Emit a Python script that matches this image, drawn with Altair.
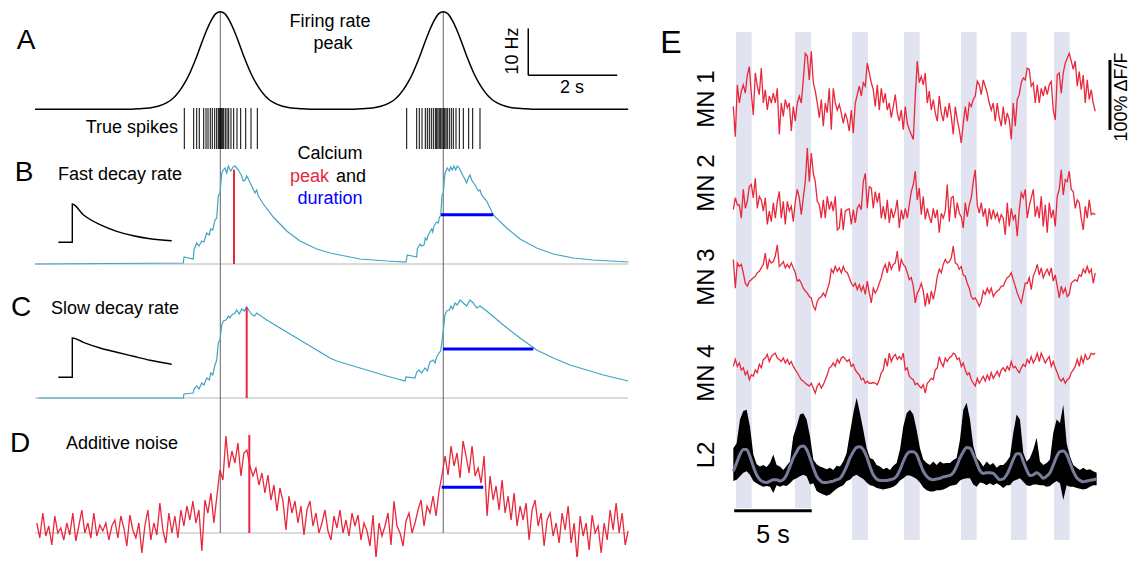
import altair as alt
import numpy as np
import pandas as pd

FONT = "Liberation Sans"
RED = "#e8283c"
BLUE = "#0000ff"
TEAL = "#3fa5c2"
GUIDE = "#666666"
BASE_GREY = "#cfcfcf"
BAND = "#e1e3f0"
L2_SMOOTH = "#787d9b"

# ---------------- Panels A-D : simulated neuron (time in s) ----------------
PEAK_TIMES_S = [4.164, 9.175]
TRACE_SPAN_S = [0.0, 13.33]
RATE_PROFILE_DT_S = [-2.0, -1.8, -1.6, -1.4, -1.2, -1.1, -1.0, -0.9, -0.8, -0.7, -0.6, -0.5, -0.4, -0.3, -0.2, -0.1, 0.0,
                     0.1, 0.2, 0.3, 0.4, 0.5, 0.6, 0.7, 0.8, 0.9, 1.0, 1.1, 1.2, 1.4, 1.6, 1.8, 2.0]
RATE_PROFILE_HZ = [0.0, 0.1, 0.25, 0.6, 1.4, 2.0, 2.9, 4.1, 5.6, 7.4, 9.6, 12.0, 14.6, 17.0, 19.0, 20.4, 20.8,
                   20.4, 19.0, 17.0, 14.6, 12.0, 9.6, 7.4, 5.6, 4.1, 2.9, 2.0, 1.4, 0.6, 0.25, 0.1, 0.0]
SPIKES_S = [3.355, 3.566, 3.634, 3.692, 3.791, 3.843, 3.888, 3.939, 3.984, 4.038, 4.083, 4.119, 4.142, 4.164,
            4.187, 4.209, 4.240, 4.276, 4.315, 4.353, 4.404, 4.465, 4.539, 4.622, 4.735, 4.854, 4.996,
            8.353, 8.578, 8.636, 8.697, 8.771, 8.816, 8.861, 8.906, 8.951, 8.996, 9.027, 9.056, 9.085, 9.117,
            9.146, 9.175, 9.207, 9.236, 9.265, 9.310, 9.355, 9.400, 9.461, 9.535, 9.625, 9.746, 9.836, 10.0]
SCALE_HZ = [7.23, 17.23]
SCALE_S = [11.085, 13.085]

FAST_T = [0.0, 3.333, 3.348, 3.557, 3.573, 3.634, 3.685, 3.746, 3.798, 3.858, 3.917, 3.948, 3.993, 4.045, 4.083,
          4.119, 4.157, 4.196, 4.218, 4.270, 4.308, 4.344, 4.398, 4.456, 4.494, 4.533, 4.569, 4.607, 4.645, 4.681,
          4.719, 4.757, 4.793, 4.870, 4.944, 4.982, 5.018, 5.130, 5.355, 5.656, 5.955, 6.330, 6.629, 6.854, 7.303,
          7.903, 8.337, 8.366, 8.578, 8.591, 8.629, 8.652, 8.690, 8.742, 8.771, 8.802, 8.838, 8.876, 8.915, 8.937,
          8.966, 8.996, 9.027, 9.063, 9.085, 9.117, 9.146, 9.175, 9.213, 9.236, 9.265, 9.310, 9.342, 9.378, 9.416,
          9.454, 9.490, 9.535, 9.566, 9.611, 9.647, 9.701, 9.737, 9.775, 9.813, 9.888, 9.962, 10.0, 10.038, 10.151,
          10.299, 10.600, 10.899, 11.274, 11.647, 12.097, 12.546, 13.333]
FAST_CA = [0.0, 0.01, 0.07, 0.05, 0.14, 0.21, 0.18, 0.23, 0.22, 0.31, 0.29, 0.35, 0.34, 0.44, 0.46, 0.68, 0.71, 0.91,
           0.93, 0.96, 0.91, 0.98, 0.93, 0.97, 0.98, 0.96, 0.94, 0.91, 0.88, 0.83, 0.84, 0.88, 0.85, 0.78, 0.71, 0.74,
           0.68, 0.60, 0.47, 0.33, 0.23, 0.15, 0.11, 0.09, 0.05, 0.03, 0.02, 0.09, 0.07, 0.15, 0.18, 0.20, 0.18, 0.19,
           0.26, 0.24, 0.29, 0.32, 0.35, 0.32, 0.38, 0.40, 0.42, 0.41, 0.46, 0.49, 0.68, 0.71, 0.91, 0.93, 0.96, 0.93,
           0.97, 0.94, 0.98, 0.94, 0.98, 0.96, 0.93, 0.89, 0.86, 0.81, 0.86, 0.89, 0.84, 0.79, 0.73, 0.74, 0.69, 0.63,
           0.49, 0.36, 0.25, 0.16, 0.10, 0.06, 0.04, 0.02]
FAST_KERNEL_T = [0.524, 0.838, 0.838, 1.085, 1.461, 1.836, 2.209, 2.584, 3.072]
FAST_KERNEL_V = [0.217, 0.217, 0.60, 0.493, 0.393, 0.327, 0.283, 0.253, 0.233]
FAST_PEAK = [4.472, 0.943]
FAST_DURATION = [9.124, 10.299, 0.493]

SLOW_T = [0.074, 3.333, 3.348, 3.557, 3.573, 3.634, 3.685, 3.746, 3.798, 3.858, 3.917, 3.948, 3.993, 4.045, 4.083,
          4.119, 4.157, 4.196, 4.231, 4.292, 4.344, 4.382, 4.420, 4.494, 4.533, 4.591, 4.645, 4.703, 4.757, 4.816,
          4.883, 4.937, 4.982, 5.207, 5.580, 5.955, 6.330, 6.629, 6.780, 7.153, 7.528, 7.903, 8.315, 8.337, 8.539,
          8.578, 8.629, 8.690, 8.764, 8.816, 8.876, 8.951, 8.989, 9.027, 9.079, 9.117, 9.146, 9.175, 9.213, 9.252,
          9.310, 9.348, 9.387, 9.438, 9.490, 9.551, 9.625, 9.701, 9.775, 9.849, 9.926, 10.0, 10.151, 10.524, 10.899,
          11.274, 11.647, 12.022, 12.398, 12.771, 13.333]
SLOW_CA = [0.0, 0.0, 0.04, 0.05, 0.09, 0.12, 0.09, 0.15, 0.13, 0.20, 0.18, 0.25, 0.23, 0.33, 0.38, 0.55, 0.58, 0.73,
           0.77, 0.78, 0.82, 0.80, 0.83, 0.85, 0.88, 0.84, 0.89, 0.87, 0.91, 0.87, 0.83, 0.82, 0.85, 0.78, 0.68, 0.58,
           0.48, 0.40, 0.37, 0.32, 0.27, 0.22, 0.17, 0.21, 0.20, 0.26, 0.28, 0.25, 0.30, 0.27, 0.36, 0.38, 0.35, 0.41,
           0.45, 0.47, 0.57, 0.67, 0.83, 0.87, 0.88, 0.92, 0.89, 0.95, 0.93, 0.98, 0.95, 0.92, 0.98, 0.95, 0.90, 0.92,
           0.87, 0.73, 0.60, 0.48, 0.40, 0.33, 0.28, 0.23, 0.17]
SLOW_KERNEL_T = [0.524, 0.838, 0.838, 1.085, 1.461, 1.836, 2.209, 2.584, 3.072]
SLOW_KERNEL_V = [0.207, 0.207, 0.60, 0.557, 0.50, 0.457, 0.417, 0.377, 0.337]
SLOW_PEAK = [4.757, 0.907]
SLOW_DURATION = [9.169, 11.198, 0.49]

NOISY_SPAN_S = [0.04, 13.33]
NOISY_CA = [0.10, -0.05, 0.20, -0.03, 0.07, -0.12, 0.17, 0.00, 0.05, -0.07,
            0.10, -0.02, 0.20, -0.08, 0.07, 0.23, 0.00, 0.10, -0.05, 0.20,
            -0.03, 0.08, 0.02, 0.10, -0.07, 0.07, 0.13, -0.05, 0.17, 0.05,
            -0.13, 0.18, 0.03, -0.05, 0.10, -0.20, 0.07, 0.23, -0.07, 0.10,
            -0.02, 0.30, 0.03, -0.10, 0.20, 0.00, 0.17, -0.05, 0.23, 0.07,
            0.27, 0.13, 0.32, 0.10, 0.23, -0.18, 0.33, 0.20, 0.40, 0.10,
            0.37, 0.63, 0.53, 0.97, 0.65, 0.82, 0.70, 0.90, 0.57, 0.80,
            0.83, 0.67, 0.57, 0.65, 0.48, 0.60, 0.40, 0.58, 0.33, 0.48,
            0.22, 0.45, 0.32, 0.03, 0.37, 0.20, 0.32, 0.10, 0.27, -0.02,
            0.23, 0.32, 0.07, 0.20, 0.00,
            0.10, 0.23, 0.02, -0.07, 0.17, 0.05, 0.23, 0.00, 0.13, -0.03,
            0.20, 0.07, 0.18, -0.07, 0.10, 0.02, -0.13, 0.18, -0.25, 0.10,
            -0.03, 0.07, 0.20, -0.12, 0.32, 0.07, 0.00, -0.13, 0.12, 0.20,
            0.00, 0.10, 0.23, 0.33, 0.07, 0.27, 0.20, 0.37, 0.17, 0.42,
            0.58, 0.77, 0.58, 0.87, 0.67, 0.80, 0.55, 0.92, 0.77, 0.60,
            0.87, 0.57, 0.65, 0.50, 0.77, 0.17, 0.57, 0.33, 0.47, 0.23,
            0.53, 0.20, 0.37, 0.13, 0.40, 0.07, 0.27, 0.13, 0.30, -0.07,
            0.23, 0.33, 0.07, 0.20, -0.13, 0.13, 0.20, -0.03, 0.10, -0.10,
            0.20, 0.03, 0.27, -0.10, 0.10, -0.27, 0.17, -0.03, 0.10, -0.17,
            0.18, 0.00, 0.07, -0.20, 0.10, -0.07, 0.23, 0.03, 0.30, 0.00,
            0.20, -0.12, 0.02]
NOISY_PEAK = [4.816, 0.98]
NOISY_DURATION = [9.139, 10.074, 0.457]

# ---------------- Panel E : recordings (time in s, dF/F in %) ----------------
BAND_START_S = [0.194, 4.0, 7.677, 11.032, 14.71, 17.935, 20.71]
BAND_END_S = [1.206, 5.032, 8.71, 12.045, 15.72, 18.95, 21.72]
MN_SPAN_S = [0.02, 23.37]
L2_SPAN_S = [0.02, 23.46]
MN1 = [-5, -48, 26, 0, 17, 26, 14, 40, 52, 14, -17, 43, 24, 12, 50, 0, 19, -10, 10, 0,
       14, 0, 21, -45, 0, -19, 5, -7, 0, -40, -5, -26, 0, 10, 0, 33, 71, 67, 33, 74,
       29, 17, 0, -21, 5, -33, 0, -14, 21, -38, 21, 0, -10, -2, -14, -29, -14, -24, -40, -10,
       -43, 0, 12, 24, 10, 29, 24, 57, 43, 29, 19, -5, 26, -10, 21, 0, 14, -10, 0, -21,
       -5, 12, -14, -26, -10, -38, -5, -29, -38, -45, -52, 10, 60, 29, 38, 26, 43, 0, 17, -10,
       5, -14, -26, 10, -14, -26, -5, -21, 0, -19, -45, -5, -24, -38, -57, -29, -5, -26, 0, -5,
       5, 10, 31, 26, 12, 33, 24, 14, 0, -10, 0, -26, 0, -21, -33, -5, -31, -14, -24, -52,
       0, -33, 5, 12, 29, 36, 33, 50, 48, 24, 29, 0, 26, 0, 21, 10, 24, 12, 26, 31,
       -10, -24, 40, 43, 14, 43, 57, 64, 71, 60, 48, 60, 24, 45, 19, 40, 0, 33, 5, 19,
       0, -12]
MN2 = [0, 17, 7, 7, -12, 29, 2, 12, 33, 36, 17, 45, 2, 19, 14, -2, 17, -21, -2, -17,
       10, -12, 12, 26, -12, 12, -21, 12, -2, 5, -17, 12, 29, 17, -7, 17, 40, 88, 40, 81,
       52, 40, 12, 7, -12, 14, -12, 19, 0, 12, -2, 19, -29, -26, 2, -29, -2, 0, 1, -21,
       0, -19, 2, 7, 0, 40, 52, 2, 33, 31, 2, 26, 10, 24, -12, 5, -14, 14, -19, 2,
       -12, -2, 14, -26, 0, -14, 2, -12, 7, 26, 36, 55, 14, 31, -7, 19, -14, 2, -10, -19,
       2, -12, 0, -33, -5, -12, -2, 36, -17, 17, 19, -12, 10, -5, -10, -26, 10, -10, 7, 17,
       40, 57, 7, -5, 10, -10, 2, -24, 2, -14, 0, -12, -5, -17, -7, -12, -36, 10, -24, 2,
       -14, -7, -38, 0, 24, 17, 29, -12, 5, 17, 29, -10, 5, -12, 19, -24, 7, -33, 10, -12,
       0, -24, 19, 29, 57, 21, 43, 40, 55, 29, 26, 2, 14, 10, -12, -29, 5, -12, 14, -7,
       -5, -7]
MN3 = [24, -17, 19, 14, 17, 5, -10, -14, -7, -5, -2, 0, 5, 7, 12, 17, 33, 10, 24, 19,
       21, 29, 45, 14, 17, 21, 12, 17, 12, 19, 12, 5, -7, -5, -10, -17, -21, -24, -29, -31,
       -43, -48, -36, -31, -29, -24, -29, -19, -10, 10, 5, 14, 7, 12, 5, 14, 7, 5, -2, -10,
       -14, -10, -19, -12, -21, -14, -26, -7, -24, -38, -17, -24, -19, -10, -2, 10, 17, 5, 21, 10,
       17, 19, 36, 7, 24, 17, 14, 5, -5, -2, -14, -38, -24, -19, -10, -21, -43, -24, -40, -21,
       -33, -19, 0, 10, 5, 17, 24, 19, 21, 26, 43, 19, 17, 10, 14, 2, 0, -10, -17, -29,
       -33, -31, -36, -43, -36, -21, -26, -17, -24, -17, -29, -24, -21, -19, -14, -14, -7, -2, 0, 5,
       -5, -14, -24, -31, -38, -24, -10, -10, -2, -19, 0, 7, 17, 2, 12, -2, 5, 10, 2, 12,
       -7, 2, -14, -31, -14, -24, -17, -29, -26, -10, -7, -5, -7, 2, 0, 10, 5, 14, 5, 10,
       -10, 5]
MN4 = [7, 17, 7, 12, 2, 5, -5, 0, -12, -5, -7, 2, -2, 10, 5, 17, 19, 24, 14, 21,
       24, 26, 19, 17, 14, 19, 12, 17, 10, 14, 7, 2, -2, -7, -12, -14, -17, -19, -21, -17,
       -24, -31, -21, -17, -24, -19, -12, -5, 5, 7, 12, 7, 17, 12, 19, 21, 17, 14, 17, 7,
       10, 2, -2, -5, -12, -10, -17, -14, -17, -17, -16, -17, -19, -12, -2, 2, 19, 7, 26, 14,
       21, 24, 17, 21, 17, 26, 2, 5, -7, -10, -12, -19, -17, -21, -24, -19, -31, -17, -14, -10,
       -12, 2, 5, 21, 12, 7, 19, 14, 19, 21, 26, 24, 17, 19, 7, 12, 2, -5, -2, -12,
       -17, -21, -10, -17, -12, -7, -14, -5, -12, -2, -10, -5, 0, -7, 2, 5, 0, 7, 2, 14,
       5, 7, 2, -2, 5, 10, 7, 17, 12, 21, 12, 17, 26, 14, 26, 19, 12, 17, 21, 7,
       14, 5, -2, -10, -14, -10, -17, -12, -10, -2, 2, 7, 17, 7, 21, 12, 24, 17, 19, 26,
       24, 26]
L2_UPPER = [45, 52, 86, 98, 100, 76, 36, 22, 19, 21, 18, 24, 36, 21, 19, 14, 20, 26, 62, 76,
            93, 95, 86, 62, 29, 22, 19, 17, 15, 17, 14, 20, 19, 26, 38, 67, 95, 117, 95, 71,
            45, 31, 29, 21, 19, 15, 17, 14, 20, 24, 43, 76, 95, 100, 93, 71, 45, 29, 24, 21,
            26, 21, 26, 23, 24, 24, 28, 31, 57, 100, 110, 86, 48, 31, 26, 19, 26, 21, 24, 17,
            21, 21, 26, 33, 67, 93, 86, 38, 26, 31, 43, 60, 26, 21, 24, 29, 67, 86, 81, 107,
            52, 33, 21, 17, 14, 17, 14, 15, 12, 10]
L2_LOWER = [-2, 0, 5, 10, 12, 7, -2, -5, -8, -10, -9, -10, -19, -8, -10, -8, -9, -5, 0, 2,
            5, 7, 5, -7, -5, -16, -19, -21, -23, -21, -17, -13, -10, -8, -2, 0, 5, 7, 4, 1,
            -4, -8, -9, -12, -13, -14, -13, -12, -10, -7, -1, 2, 6, 6, 4, 1, -4, -11, -15, -17,
            -17, -15, -15, -14, -12, -9, -8, -7, -1, 1, 2, 2, -7, -10, -4, -5, -8, -5, -8, -5,
            -8, -12, -8, -8, -2, 0, 2, -3, -8, -9, -7, -7, -8, -8, -10, -9, -5, -2, -5, -29,
            -8, -10, -10, -12, -13, -14, -13, -10, -8, -8]
L2_SMOOTHED = [12, 24, 36, 43, 43, 33, 19, 7, 0, -3, -4, -2, 0, 0, -2, 0, 7, 19, 31, 40,
               47, 48, 43, 31, 17, 5, -1, -4, -4, -3, -2, 0, 2, 9, 19, 31, 40, 46, 47, 43,
               33, 19, 7, 1, -1, -1, -1, 0, 1, 5, 14, 26, 36, 40, 40, 36, 24, 12, 5, 1,
               0, 1, 2, 4, 5, 6, 10, 19, 31, 40, 46, 45, 36, 24, 13, 9, 10, 10, 9, 4,
               0, 1, 7, 17, 29, 37, 37, 26, 14, 6, 7, 10, 7, 2, 5, 10, 21, 33, 40, 41,
               36, 24, 12, 3, -1, -3, -2, -1, 0, 1]
TIME_BAR_S = [0.08, 5.08]
DFF_BAR_T = 24.32

# ---------------- helpers ----------------
def frame(t, v):
    return pd.DataFrame({"t": list(t), "v": list(v), "i": list(range(len(t)))})


def trace(df, xs, ys, color, width, interp="linear", clip=False):
    return alt.Chart(df).mark_line(color=color, strokeWidth=width, interpolate=interp, clip=clip).encode(
        x=alt.X("t:Q", scale=xs, axis=None),
        y=alt.Y("v:Q", scale=ys, axis=None),
        order=alt.Order("i:Q"),
    )


def hbar(t0, t1, v, xs, ys, color, width):
    df = pd.DataFrame({"t": [t0], "t2": [t1], "v": [v]})
    return alt.Chart(df).mark_rule(color=color, strokeWidth=width).encode(
        x=alt.X("t:Q", scale=xs, axis=None), x2="t2:Q", y=alt.Y("v:Q", scale=ys, axis=None))


def vbar(t, v0, v1, xs, ys, color, width):
    df = pd.DataFrame({"t": [t], "v": [v0], "v2": [v1]})
    return alt.Chart(df).mark_rule(color=color, strokeWidth=width).encode(
        x=alt.X("t:Q", scale=xs, axis=None), y=alt.Y("v:Q", scale=ys, axis=None), y2="v2:Q")


def ticks(times, xs, top, bottom, color, width):
    df = pd.DataFrame({"t": list(times)})
    return alt.Chart(df).mark_rule(color=color, strokeWidth=width).encode(
        x=alt.X("t:Q", scale=xs, axis=None), y=alt.value(top), y2=alt.value(bottom))


def label(s, x, y, size, color="#000000", angle=0, align="center", baseline="middle"):
    return alt.Chart(pd.DataFrame({"s": [s]})).mark_text(
        font=FONT, fontSize=size, color=color, angle=angle, align=align, baseline=baseline
    ).encode(text="s:N", x=alt.value(x), y=alt.value(y))


def sc(domain):
    return alt.Scale(domain=domain, nice=False, zero=False)


W_L, W_E = 647, 476
H_A, H_B, H_C, H_D = 142, 135, 135, 134
XL = sc([-0.607, 13.933])

# ---------------- panel A ----------------
rate_t, rate_v = [TRACE_SPAN_S[0]], [0.0]
for pk in PEAK_TIMES_S:
    for dt, hz in zip(RATE_PROFILE_DT_S, RATE_PROFILE_HZ):
        rate_t.append(pk + dt)
        rate_v.append(hz)
rate_t.append(TRACE_SPAN_S[1])
rate_v.append(0.0)

YA = sc([-9.36, 20.95])
panel_a = alt.layer(
    ticks(PEAK_TIMES_S, XL, 1, H_A, GUIDE, 1),
    trace(frame(rate_t, rate_v), XL, YA, "#000000", 1.5, "monotone"),
    ticks(SPIKES_S, XL, 97, 138, "#000000", 1),
    vbar(SCALE_S[0], SCALE_HZ[0], SCALE_HZ[1], XL, YA, "#000000", 1.5),
    hbar(SCALE_S[0], SCALE_S[1], SCALE_HZ[0], XL, YA, "#000000", 1.5),
    label("A", 18, 30, 28),
    label("Firing rate", 322, 11, 18),
    label("peak", 325, 33, 18),
    label("True spikes", 170, 117, 18, align="right"),
    label("10 Hz", 505, 40, 18, angle=270),
    label("2 s", 564, 77, 18),
).properties(width=W_L, height=H_A)

# ---------------- panel B ----------------
YB = sc([-0.24, 1.11])
panel_b = alt.layer(
    hbar(TRACE_SPAN_S[0], TRACE_SPAN_S[1], 0.0, XL, YB, BASE_GREY, 1.5),
    ticks(PEAK_TIMES_S, XL, 0, H_B, GUIDE, 1),
    trace(frame(FAST_T, FAST_CA), XL, YB, TEAL, 1.2),
    trace(frame(FAST_KERNEL_T, FAST_KERNEL_V), XL, YB, "#000000", 1.4, "monotone"),
    vbar(FAST_PEAK[0], 0.0, FAST_PEAK[1], XL, YB, RED, 2),
    hbar(FAST_DURATION[0], FAST_DURATION[1], FAST_DURATION[2], XL, YB, BLUE, 3),
    label("B", 16, 20, 28),
    label("Fast decay rate", 50, 22, 18, align="left"),
    label("Calcium", 322, 1, 18),
    label("peak", 282, 24, 18, color=RED, align="left"),
    label("and", 328, 24, 18, align="left"),
    label("duration", 322, 46, 18, color=BLUE),
).properties(width=W_L, height=H_B)

# ---------------- panel C ----------------
YC = sc([-0.25, 1.10])
panel_c = alt.layer(
    hbar(TRACE_SPAN_S[0], TRACE_SPAN_S[1], 0.0, XL, YC, BASE_GREY, 1.5),
    ticks(PEAK_TIMES_S, XL, 0, H_C, GUIDE, 1),
    trace(frame(SLOW_T, SLOW_CA), XL, YC, TEAL, 1.2),
    trace(frame(SLOW_KERNEL_T, SLOW_KERNEL_V), XL, YC, "#000000", 1.4, "monotone"),
    vbar(SLOW_PEAK[0], 0.0, SLOW_PEAK[1], XL, YC, RED, 2),
    hbar(SLOW_DURATION[0], SLOW_DURATION[1], SLOW_DURATION[2], XL, YC, BLUE, 3),
    label("C", 13, 20, 28),
    label("Slow decay rate", 43, 21, 18, align="left"),
).properties(width=W_L, height=H_C)

# ---------------- panel D ----------------
YD = sc([-0.24, 1.10])
noisy_t = np.linspace(NOISY_SPAN_S[0], NOISY_SPAN_S[1], len(NOISY_CA))
panel_d = alt.layer(
    hbar(TRACE_SPAN_S[0], TRACE_SPAN_S[1], 0.0, XL, YD, BASE_GREY, 1.5),
    ticks(PEAK_TIMES_S, XL, 0, 110, GUIDE, 1),
    trace(frame(noisy_t, NOISY_CA), XL, YD, RED, 1.3, clip=True),
    vbar(NOISY_PEAK[0], 0.0, NOISY_PEAK[1], XL, YD, RED, 2),
    hbar(NOISY_DURATION[0], NOISY_DURATION[1], NOISY_DURATION[2], XL, YD, BLUE, 3),
    label("D", 12, 21, 28),
    label("Additive noise", 58, 21, 18, align="left"),
).properties(width=W_L, height=H_D)

# ---------------- panel E ----------------
XE = sc([-5.032, 25.677])
YE = sc([2.86, 782.86])
row_offset = {"MN 1": 651.4, "MN 2": 499.0, "MN 3": 403.9, "MN 4": 268.1, "L2": 113.3}

bands = pd.DataFrame({"t": BAND_START_S, "t2": BAND_END_S})
band_short = alt.Chart(bands.iloc[:2]).mark_rect(color=BAND).encode(
    x=alt.X("t:Q", scale=XE, axis=None), x2="t2:Q", y=alt.value(21), y2=alt.value(497))
band_long = alt.Chart(bands.iloc[2:]).mark_rect(color=BAND).encode(
    x=alt.X("t:Q", scale=XE, axis=None), x2="t2:Q", y=alt.value(21), y2=alt.value(529))

mn_layers = []
for name, vals in [("MN 1", MN1), ("MN 2", MN2), ("MN 3", MN3), ("MN 4", MN4)]:
    tt = np.linspace(MN_SPAN_S[0], MN_SPAN_S[1], len(vals))
    mn_layers.append(trace(frame(tt, np.array(vals, dtype=float) + row_offset[name]), XE, YE, RED, 1.3))

l2_t = np.linspace(L2_SPAN_S[0], L2_SPAN_S[1], len(L2_UPPER))
l2_df = pd.DataFrame({"t": l2_t,
                      "hi": np.array(L2_UPPER, dtype=float) + row_offset["L2"],
                      "lo": np.array(L2_LOWER, dtype=float) + row_offset["L2"]})
l2_area = alt.Chart(l2_df).mark_area(color="#000000", opacity=1).encode(
    x=alt.X("t:Q", scale=XE, axis=None), y=alt.Y("hi:Q", scale=YE, axis=None), y2="lo:Q")
l2_s_t = np.linspace(L2_SPAN_S[0], L2_SPAN_S[1], len(L2_SMOOTHED))
l2_smooth = trace(frame(l2_s_t, np.array(L2_SMOOTHED, dtype=float) + row_offset["L2"]), XE, YE,
                  L2_SMOOTH, 3, "monotone")

panel_e = alt.layer(
    band_short, band_long,
    *mn_layers,
    l2_area, l2_smooth,
    hbar(TIME_BAR_S[0], TIME_BAR_S[1], 69.0, XE, YE, "#000000", 3),
    vbar(DFF_BAR_T, row_offset["MN 1"] - 38.5, row_offset["MN 1"] + 61.5, XE, YE, "#000000", 3),
    label("E", 16, 32, 32),
    label("MN 1", 52, 88, 24, angle=270),
    label("MN 2", 52, 172, 24, angle=270),
    label("MN 3", 52, 266, 24, angle=270),
    label("MN 4", 52, 362, 24, angle=270),
    label("L2", 52, 444, 24, angle=270),
    label("100% \u0394F/F", 476, 86, 18, angle=270, baseline="bottom"),
    label("5 s", 118, 524, 25),
).properties(width=W_E, height=546)

left = alt.vconcat(panel_a, panel_b, panel_c, panel_d, spacing=0, bounds="flush")
chart = alt.hconcat(left, panel_e, spacing=0, padding=0).configure_view(strokeWidth=0)

chart.save("out.html", embed_options={"renderer": "svg", "actions": False})
